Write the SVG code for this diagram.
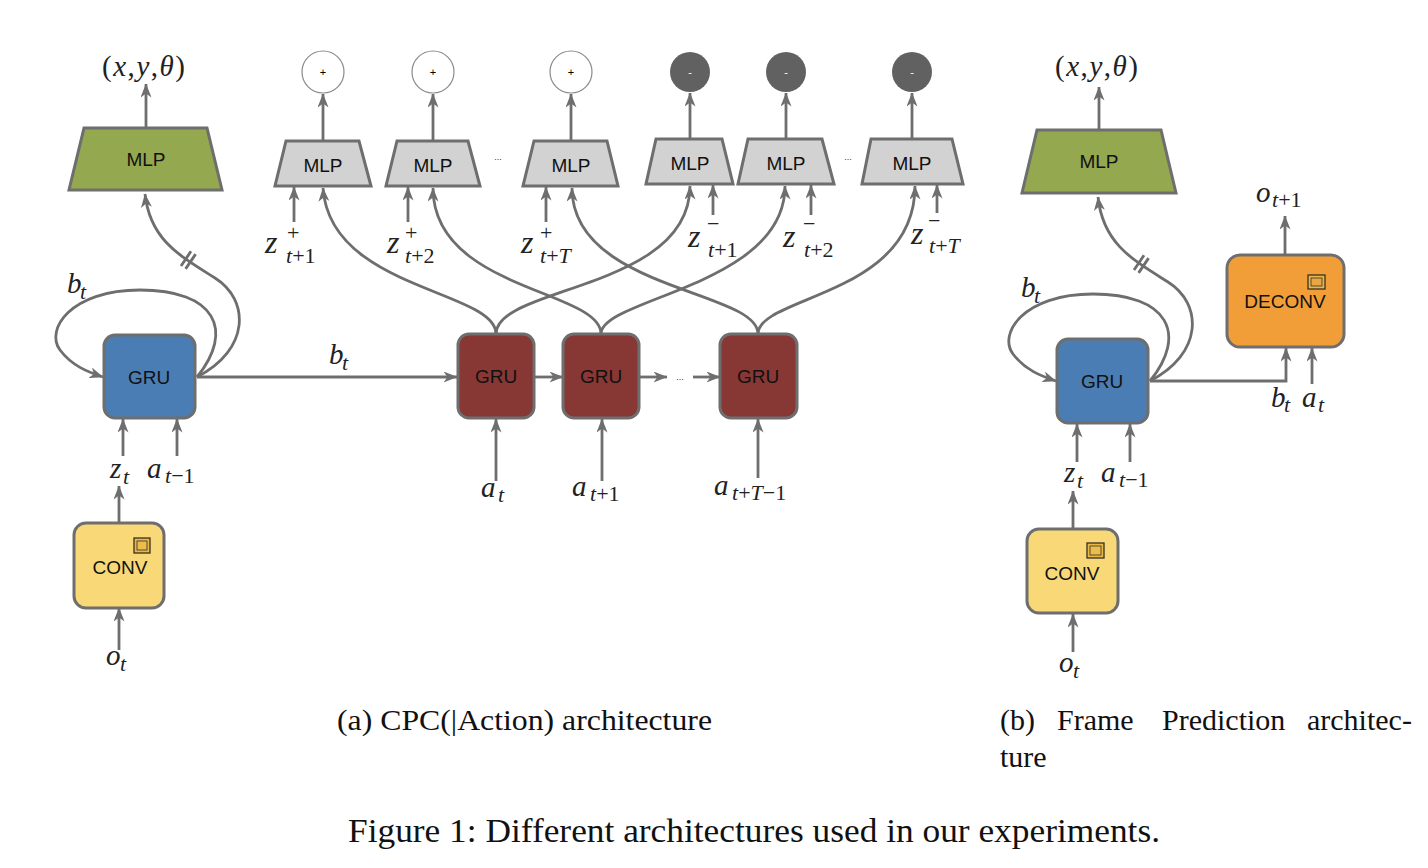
<svg xmlns="http://www.w3.org/2000/svg" width="1428" height="868" viewBox="0 0 1428 868">
<defs>
<marker id="ah" viewBox="0 0 14 11" refX="13.5" refY="5.5" markerWidth="14" markerHeight="11" orient="auto" markerUnits="userSpaceOnUse">
<path d="M0,0 L14,5.5 L0,11 L4,5.5 z" fill="#6e6e6e"/>
</marker>
<style>
.ln{fill:none;stroke:#6e6e6e;stroke-width:2.8;}
.ar{marker-end:url(#ah);}
.box{stroke:#6e6e6e;stroke-width:3;}
.blue{fill:#4a7db3;}
.red{fill:#873734;}
.green{fill:#93a84f;}
.grey{fill:#d2d2d2;}
.yellow{fill:#f9d877;}
.orange{fill:#f29e38;}
.lbl{font-family:"Liberation Sans",Arial,sans-serif;font-size:19px;fill:#111;text-anchor:middle;}
.m{font-family:"Liberation Serif","DejaVu Serif",serif;font-style:italic;font-size:29px;fill:#222;}
.mz{font-family:"Liberation Serif","DejaVu Serif",serif;font-style:italic;font-size:32px;fill:#222;}
.s{font-family:"Liberation Serif","DejaVu Serif",serif;font-style:italic;font-size:22px;fill:#222;}
.up{font-style:normal;}
.cap{font-family:"Liberation Serif","Times New Roman",serif;fill:#111;}
.pc{fill:#fff;stroke:#8a8a8a;stroke-width:1.2;}
.nc{fill:#616161;}
.sm{font-family:"Liberation Sans",Arial,sans-serif;font-size:11px;text-anchor:middle;}
.dots{font-family:"Liberation Sans",Arial,sans-serif;font-size:9px;fill:#333;text-anchor:middle;}
.ico{fill:#e6b84a;stroke:#3a3020;stroke-width:1.3;}
</style>
</defs>

<!-- ===== Connectors ===== -->
<g id="connectors">
<!-- left panel -->
<path class="ln ar" d="M146,128 L146,84"/>
<path class="ln ar" d="M197,377 C235,330 215,290 140,290 C70,290 45,330 60,350 C72,366 88,372 103,377"/>
<path class="ln ar" d="M197,377 C250,350 250,300 215,278 C180,256 150,240 145,194"/>
<path class="ln" d="M185.6,268.9 L195.6,254.1 M181,266 L191,251.2"/>
<path class="ln ar" d="M197,377 L457,377"/>
<path class="ln ar" d="M123,456 L123,419"/>
<path class="ln ar" d="M177,456 L177,419"/>
<path class="ln ar" d="M119,523 L119,486"/>
<path class="ln ar" d="M119,650 L119,608"/>

<!-- MLP to circles -->
<path class="ln ar" d="M323,141 L323,94"/>
<path class="ln ar" d="M433,141 L433,94"/>
<path class="ln ar" d="M571,141 L571,94"/>
<path class="ln ar" d="M690,139 L690,93"/>
<path class="ln ar" d="M786,139 L786,93"/>
<path class="ln ar" d="M912,139 L912,93"/>

<!-- z inputs -->
<path class="ln ar" d="M294,222 L294,187"/>
<path class="ln ar" d="M408,222 L408,187"/>
<path class="ln ar" d="M546,222 L546,187"/>
<path class="ln ar" d="M713,215 L713,185"/>
<path class="ln ar" d="M811,215 L811,185"/>
<path class="ln ar" d="M937,213 L937,185"/>

<!-- GRU tops to MLPs -->
<path class="ln ar" d="M496,334 C496,290 330,290 323,188"/>
<path class="ln ar" d="M496,334 C496,286 690,290 690,186"/>
<path class="ln ar" d="M601,334 C601,290 433,290 433,188"/>
<path class="ln ar" d="M601,334 C601,298 785,286 785,186"/>
<path class="ln ar" d="M758,334 C758,290 572,290 572,188"/>
<path class="ln ar" d="M758,334 C758,296 915,296 915,186"/>

<!-- GRU chain -->
<path class="ln ar" d="M534,377 L563,377"/>
<path class="ln ar" d="M639,377 L667,377"/>
<path class="ln ar" d="M693,377 L720,377"/>
<path class="ln ar" d="M496,481 L496,419"/>
<path class="ln ar" d="M602,481 L602,419"/>
<path class="ln ar" d="M758,478 L758,419"/>

<!-- right panel -->
<path class="ln ar" d="M1099,130 L1099,87"/>
<path class="ln ar" d="M1150,381 C1188,334 1168,294 1093,294 C1023,294 998,334 1013,354 C1025,370 1041,376 1056,381"/>
<path class="ln ar" d="M1150,381 C1203,354 1203,304 1168,282 C1133,260 1103,244 1098,197"/>
<path class="ln" d="M1138.6,272.9 L1148.6,258.1 M1134,270 L1144,255.2"/>
<path class="ln ar" d="M1150,381 L1286,381 L1286,348"/>
<path class="ln ar" d="M1312,384 L1312,348"/>
<path class="ln ar" d="M1285,255 L1285,216"/>
<path class="ln ar" d="M1077,462 L1077,424"/>
<path class="ln ar" d="M1130,462 L1130,424"/>
<path class="ln ar" d="M1073,529 L1073,491"/>
<path class="ln ar" d="M1073,652 L1073,614"/>
</g>

<!-- ===== Nodes: left panel ===== -->
<g id="mlp-left">
<polygon class="box green" points="84,128 207,128 222,190 69,190"/>
<text class="lbl" x="146" y="166">MLP</text>
</g>
<g id="gru-left">
<rect class="box blue" x="104" y="335" width="91" height="83" rx="11"/>
<text class="lbl" x="149" y="384">GRU</text>
</g>
<g id="conv-left">
<rect class="box yellow" x="74" y="523" width="90" height="85" rx="12"/>
<rect class="ico" x="134" y="538" width="16" height="15"/>
<rect x="137" y="541" width="10" height="9" fill="#eabd4e" stroke="#3a3020" stroke-width="0.8"/>
<text class="lbl" x="120" y="574">CONV</text>
</g>

<!-- circles -->
<g id="pos1"><circle class="pc" cx="323" cy="72" r="21"/><text class="sm" x="323" y="76">+</text></g>
<g id="pos2"><circle class="pc" cx="433" cy="72" r="21"/><text class="sm" x="433" y="76">+</text></g>
<g id="pos3"><circle class="pc" cx="571" cy="72" r="21"/><text class="sm" x="571" y="76">+</text></g>
<g id="neg1"><circle class="nc" cx="690" cy="72" r="20"/><text class="sm" x="690" y="76" fill="#fff">-</text></g>
<g id="neg2"><circle class="nc" cx="786" cy="72" r="20"/><text class="sm" x="786" y="76" fill="#fff">-</text></g>
<g id="neg3"><circle class="nc" cx="912" cy="72" r="20"/><text class="sm" x="912" y="76" fill="#fff">-</text></g>

<!-- grey MLPs -->
<g id="mlp-p1"><polygon class="box grey" points="286,141 359,141 371,186 275,186"/><text class="lbl" x="323" y="172">MLP</text></g>
<g id="mlp-p2"><polygon class="box grey" points="397,141 468,141 480,186 386,186"/><text class="lbl" x="433" y="172">MLP</text></g>
<text class="dots" x="498" y="160">...</text>
<g id="mlp-p3"><polygon class="box grey" points="534,141 607,141 618,186 523,186"/><text class="lbl" x="571" y="172">MLP</text></g>
<g id="mlp-n1"><polygon class="box grey" points="656,139 722,139 733,184 646,184"/><text class="lbl" x="690" y="170">MLP</text></g>
<g id="mlp-n2"><polygon class="box grey" points="748,139 822,139 834,184 738,184"/><text class="lbl" x="786" y="170">MLP</text></g>
<text class="dots" x="848" y="160">...</text>
<g id="mlp-n3"><polygon class="box grey" points="871,139 952,139 963,184 862,184"/><text class="lbl" x="912" y="170">MLP</text></g>

<!-- red GRUs -->
<g id="gru-r1"><rect class="box red" x="458" y="334" width="76" height="84" rx="11"/><text class="lbl" x="496" y="383">GRU</text></g>
<g id="gru-r2"><rect class="box red" x="563" y="334" width="76" height="84" rx="11"/><text class="lbl" x="601" y="383">GRU</text></g>
<text class="dots" x="680" y="380">...</text>
<g id="gru-r3"><rect class="box red" x="720" y="334" width="77" height="84" rx="11"/><text class="lbl" x="758" y="383">GRU</text></g>

<!-- ===== Nodes: right panel ===== -->
<g id="mlp-right">
<polygon class="box green" points="1037,130 1161,130 1176,193 1022,193"/>
<text class="lbl" x="1099" y="168">MLP</text>
</g>
<g id="gru-right">
<rect class="box blue" x="1057" y="339" width="91" height="84" rx="11"/>
<text class="lbl" x="1102" y="388">GRU</text>
</g>
<g id="deconv">
<rect class="box orange" x="1227" y="255" width="117" height="92" rx="13"/>
<rect class="ico" x="1308" y="275" width="17" height="14"/>
<rect x="1311" y="278" width="11" height="8" fill="#eaa545" stroke="#3a3020" stroke-width="0.8"/>
<text class="lbl" x="1285" y="308">DECONV</text>
</g>
<g id="conv-right">
<rect class="box yellow" x="1027" y="529" width="91" height="84" rx="12"/>
<rect class="ico" x="1087" y="543" width="17" height="15"/>
<rect x="1090" y="546" width="11" height="9" fill="#eabd4e" stroke="#3a3020" stroke-width="0.8"/>
<text class="lbl" x="1072" y="580">CONV</text>
</g>

<!-- ===== Math labels ===== -->
<g id="labels">
<text class="m" x="102" y="76" font-size="25" textLength="83" lengthAdjust="spacing"><tspan class="up">(</tspan>x<tspan class="up">,</tspan>y<tspan class="up">,</tspan>θ<tspan class="up">)</tspan></text>
<text class="m" x="1055" y="76" font-size="25" textLength="83" lengthAdjust="spacing"><tspan class="up">(</tspan>x<tspan class="up">,</tspan>y<tspan class="up">,</tspan>θ<tspan class="up">)</tspan></text>

<text class="m" x="67" y="293">b</text><text class="s" x="80" y="299">t</text>
<text class="m" x="329" y="364">b</text><text class="s" x="342" y="370">t</text>
<text class="m" x="110" y="478">z</text><text class="s" x="123" y="484">t</text>
<text class="m" x="147" y="478">a</text><text class="s" x="165" y="483">t<tspan class="up">−1</tspan></text>
<text class="m" x="106" y="665">o</text><text class="s" x="120" y="671">t</text>

<text class="mz" x="265" y="253">z</text><text class="s" x="287" y="240"><tspan class="up">+</tspan></text><text class="s" x="286" y="263">t<tspan class="up">+1</tspan></text>
<text class="mz" x="387" y="253">z</text><text class="s" x="405" y="240"><tspan class="up">+</tspan></text><text class="s" x="405" y="263">t<tspan class="up">+2</tspan></text>
<text class="mz" x="521" y="253">z</text><text class="s" x="540" y="240"><tspan class="up">+</tspan></text><text class="s" x="540" y="263">t<tspan class="up">+</tspan>T</text>

<text class="mz" x="688" y="247">z</text><text class="s" x="707" y="231" font-size="25"><tspan class="up">−</tspan></text><text class="s" x="708" y="257">t<tspan class="up">+1</tspan></text>
<text class="mz" x="783" y="247">z</text><text class="s" x="803" y="231" font-size="25"><tspan class="up">−</tspan></text><text class="s" x="804" y="257">t<tspan class="up">+2</tspan></text>
<text class="mz" x="911" y="244">z</text><text class="s" x="928" y="228" font-size="25"><tspan class="up">−</tspan></text><text class="s" x="929" y="253">t<tspan class="up">+</tspan>T</text>

<text class="m" x="481" y="497" font-size="31">a</text><text class="s" x="498" y="502">t</text>
<text class="m" x="572" y="496" font-size="31">a</text><text class="s" x="590" y="501">t<tspan class="up">+1</tspan></text>
<text class="m" x="714" y="495" font-size="31">a</text><text class="s" x="732" y="500">t<tspan class="up">+</tspan>T<tspan class="up">−1</tspan></text>

<text class="m" x="1021" y="297">b</text><text class="s" x="1034" y="303">t</text>
<text class="m" x="1256" y="202">o</text><text class="s" x="1272" y="207">t<tspan class="up">+1</tspan></text>
<text class="m" x="1271" y="407">b</text><text class="s" x="1284" y="412">t</text>
<text class="m" x="1302" y="407">a</text><text class="s" x="1318" y="412">t</text>
<text class="m" x="1064" y="482">z</text><text class="s" x="1077" y="488">t</text>
<text class="m" x="1101" y="482">a</text><text class="s" x="1119" y="487">t<tspan class="up">−1</tspan></text>
<text class="m" x="1059" y="672">o</text><text class="s" x="1073" y="678">t</text>
</g>

<!-- ===== Captions ===== -->
<g id="captions">
<text class="cap" x="337" y="730" font-size="30" textLength="375" lengthAdjust="spacingAndGlyphs">(a) CPC(|Action) architecture</text>
<text class="cap" x="1000" y="730" font-size="30">(b)</text>
<text class="cap" x="1057" y="730" font-size="30">Frame</text>
<text class="cap" x="1162" y="730" font-size="30">Prediction</text>
<text class="cap" x="1307" y="730" font-size="30">architec-</text>
<text class="cap" x="1000" y="767" font-size="30">ture</text>
<text class="cap" x="348" y="842" font-size="33" textLength="812" lengthAdjust="spacingAndGlyphs">Figure 1: Different architectures used in our experiments.</text>
</g>
</svg>
